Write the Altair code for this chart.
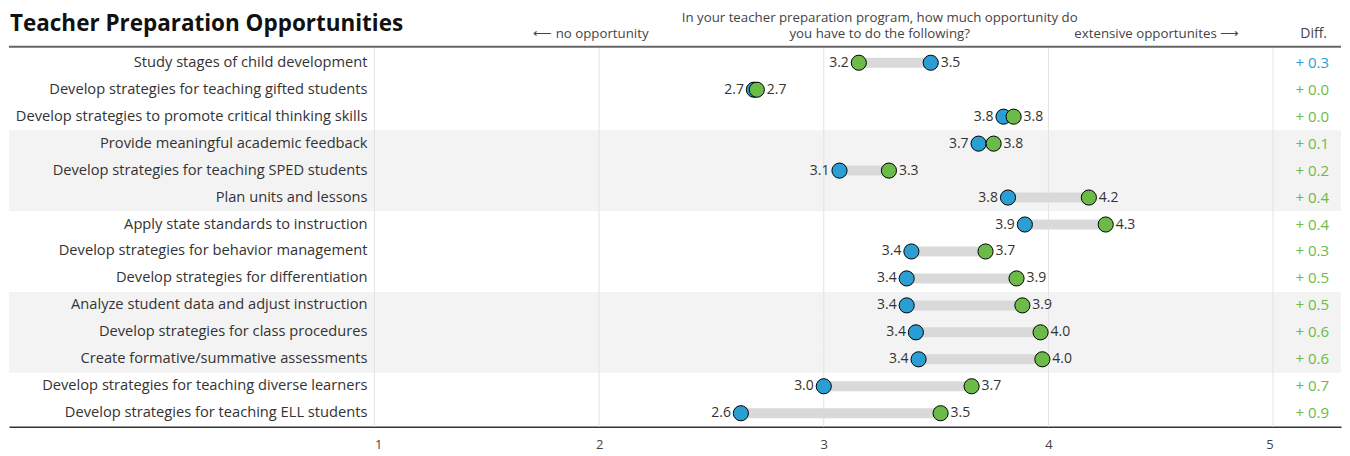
import altair as alt
import pandas as pd

tasks = [
    "Study stages of child development",
    "Develop strategies for teaching gifted students",
    "Develop strategies to promote critical thinking skills",
    "Provide meaningful academic feedback",
    "Develop strategies for teaching SPED students",
    "Plan units and lessons",
    "Apply state standards to instruction",
    "Develop strategies for behavior management",
    "Develop strategies for differentiation",
    "Analyze student data and adjust instruction",
    "Develop strategies for class procedures",
    "Create formative/summative assessments",
    "Develop strategies for teaching diverse learners",
    "Develop strategies for teaching ELL students",
]
blue_vals = [3.476, 2.689, 3.800, 3.689, 3.070, 3.820, 3.895, 3.390, 3.369, 3.369, 3.410, 3.422, 3.000, 2.631]
green_vals = [3.156, 2.702, 3.845, 3.756, 3.290, 4.180, 4.255, 3.720, 3.858, 3.884, 3.965, 3.973, 3.658, 3.520]
tick_values = [1, 2, 3, 4, 5]

title_text = "Teacher Preparation Opportunities"
question_lines = ["In your teacher preparation program, how much opportunity do",
                  "you have to do the following?"]
left_hint = "⟵ no opportunity"
right_hint = "extensive opportunites ⟶"
diff_header = "Diff."

BLUE = "#2b9fd3"
GREEN = "#6cba47"
FONT = "Open Sans"
W, H = 1334, 419
TOP = 41  # pixel of first row's top edge inside plot

df = pd.DataFrame({"task": tasks, "idx": list(range(len(tasks))),
                   "blue": blue_vals, "green": green_vals})
ticks_df = pd.DataFrame({"tick": tick_values})
one = pd.DataFrame({"k": [0]})

xs = alt.Scale(domain=[1 - 366 / 225, 1 + (W - 366) / 225], nice=False, zero=False)
ys = alt.Scale(domain=[-0.5 - TOP / 27, 13.5], nice=False, zero=False, reverse=True)
cs = alt.Scale(domain=["blue", "green"], range=[BLUE, GREEN])

base = alt.Chart(df)

bands = base.transform_filter("floor(datum.idx / 3) % 2 == 1").transform_calculate(
    y0="datum.idx - 0.5", y1="datum.idx + 0.5"
).mark_rect(color="#f3f3f3").encode(
    x=alt.value(0), x2=alt.value(W),
    y=alt.Y("y0:Q", scale=ys, axis=None), y2="y1:Q",
)

label_align = {"condition": [{"test": "datum.value == 1", "value": "left"},
                             {"test": "datum.value == 5", "value": "right"}],
               "value": "center"}

grid = alt.Chart(ticks_df).mark_rule(color="#e3e3e3", strokeWidth=1).encode(
    x=alt.X("tick:Q", scale=xs,
            axis=alt.Axis(values=tick_values, title=None, ticks=False, grid=False,
                          domain=True, domainColor="#333333", domainWidth=1.5,
                          labelFontSize=13, labelColor="#444444", labelFont=FONT,
                          labelPadding=12, labelAlign=label_align, format="d")),
    y=alt.value(TOP - 2), y2=alt.value(H),
)

top_line = alt.Chart(one).mark_rule(color="#666666", strokeWidth=2).encode(
    x=alt.value(0), x2=alt.value(W), y=alt.value(TOP - 2.5)
)

bars = base.mark_rule(color="#d9d9d9", strokeWidth=10).encode(
    x=alt.X("blue:Q", scale=xs), x2="green:Q",
    y=alt.Y("idx:Q", scale=ys, axis=None),
)

dots = base.transform_fold(["blue", "green"], as_=["grp", "val"]).mark_circle(
    size=230, opacity=1, stroke="black", strokeWidth=1
).encode(
    x=alt.X("val:Q", scale=xs), y=alt.Y("idx:Q", scale=ys, axis=None),
    color=alt.Color("grp:N", scale=cs, legend=None),
)

lo_text = base.transform_calculate(lo="min(datum.blue, datum.green)").mark_text(
    align="right", baseline="middle", dx=-10, fontSize=14, color="#333333", font=FONT
).encode(x=alt.X("lo:Q", scale=xs), y=alt.Y("idx:Q", scale=ys, axis=None),
         text=alt.Text("lo:Q", format=".1f"))

hi_text = base.transform_calculate(hi="max(datum.blue, datum.green)").mark_text(
    align="left", baseline="middle", dx=10, fontSize=14, color="#333333", font=FONT
).encode(x=alt.X("hi:Q", scale=xs), y=alt.Y("idx:Q", scale=ys, axis=None),
         text=alt.Text("hi:Q", format=".1f"))

task_text = base.mark_text(
    align="right", baseline="middle", fontSize=14.7, color="#333333", font=FONT
).encode(x=alt.value(359), y=alt.Y("idx:Q", scale=ys, axis=None), text="task:N")

diff_text = base.transform_calculate(
    txt="'+ ' + format(abs(datum.green - datum.blue), '.1f')",
    win="datum.blue > datum.green ? 'blue' : 'green'",
).mark_text(align="right", baseline="middle", fontSize=15, font=FONT).encode(
    x=alt.value(1322), y=alt.Y("idx:Q", scale=ys, axis=None), text="txt:N",
    color=alt.Color("win:N", scale=cs, legend=None),
)

def label(text, x, y, align="left", size=13.3, color="#444444", weight="normal"):
    return alt.Chart(one).mark_text(text=text, align=align, baseline="middle", fontSize=size,
                                    color=color, font=FONT, fontWeight=weight).encode(
        x=alt.value(x), y=alt.value(y))

title = label(title_text, 1, 15.5, size=22.5, color="#111111", weight="bold")
q1 = label(question_lines[0], 872, 9.5, align="center")
q2 = label(question_lines[1], 872, 25.5, align="center")
lh = label(left_hint, 525, 25.5)
rh = label(right_hint, 1232, 25.5, align="right")
dh = label(diff_header, 1320, 25.5, align="right", size=14)

chart = alt.layer(
    bands, grid, top_line, bars, dots, lo_text, hi_text, task_text, diff_text,
    title, q1, q2, lh, rh, dh,
).properties(width=W, height=H, padding=0, background="white").configure_view(stroke=None)

chart.save("out.html", embed_options={"renderer": "svg", "actions": False})
